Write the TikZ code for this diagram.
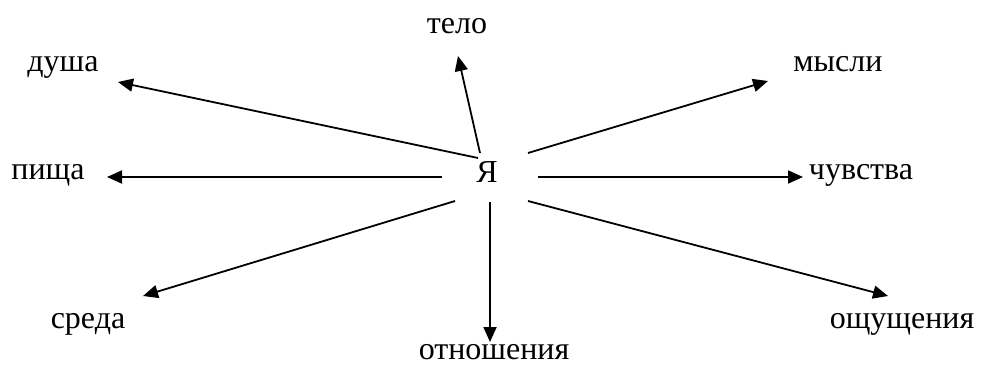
\documentclass[tikz,border=0pt]{standalone}
\usepackage{fontspec}
\setmainfont{Liberation Serif}
\usepackage{tikz}
\usetikzlibrary{arrows.meta}
\tikzstyle{word}=[inner sep=0pt,font=\fontsize{32}{38}\selectfont]
\tikzstyle{ray}=[line width=1.8pt,-{Triangle[length=15pt,width=13pt]}]

\begin{document}
\begin{tikzpicture}[x=1pt,y=-1pt]

  \useasboundingbox (0,0) rectangle (984,367);

  \node[word] (ya) at (487,172) {Я};

  % labels around
  \foreach \name/\x/\y/\label in {dusha/63/67/душа, telo/457/26/тело, mysli/838/64/мысли, pishcha/48/175/пища,
                                  chuvstva/861/175/чувства, sreda/88/324/среда, otnosh/494/352/отношения, oshch/902/324/ощущения}
        \node[word] (\name) at (\x,\y) {\label};

  % start and end points of the rays
  \foreach \name/\sx/\sy/\tx/\ty in {dusha/478/158/118/82, telo/480/153/458/56, mysli/528/153/768/81, pishcha/442/177/107/177,
                                     chuvstva/538/177/803/177, sreda/455/201/143/296, otnosh/490/202/490/342, oshch/528/201/888/296}
  {
        \coordinate (s-\name) at (\sx,\sy);
        \coordinate (t-\name) at (\tx,\ty);
        \draw[ray] (s-\name) -- (t-\name);
  }

\end{tikzpicture}
\end{document}
